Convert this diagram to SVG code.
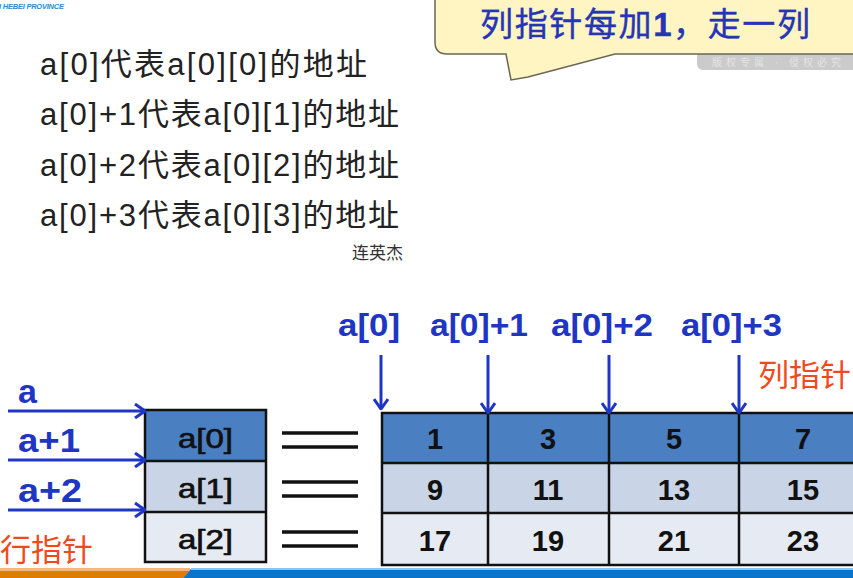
<svg xmlns="http://www.w3.org/2000/svg" width="853" height="578" viewBox="0 0 853 578">
<style>
.cn{font-family:"Liberation Sans","Noto Sans CJK SC",sans-serif}
.line{font-size:31px;fill:#222}
.blue{fill:#1f36c4;font-weight:bold;font-size:31px}
.big{font-size:34px}
.num{font-size:29px;font-weight:bold;fill:#111;text-anchor:middle}
.cell{font-size:28px;fill:#111;stroke:#111;stroke-width:0.7}
.red{fill:#f04a1c;font-size:31px}
.arr{stroke:#1f36c4;stroke-width:3;fill:none;marker-end:url(#v)}
.eq{stroke:#111;stroke-width:3.5}
.grid{stroke:#111;stroke-width:2.5;fill:none}
</style>
<defs>
<marker id="v" viewBox="0 0 12 16" refX="11" refY="8" markerWidth="12" markerHeight="16" markerUnits="userSpaceOnUse" orient="auto">
<path d="M1,1 L11,8 L1,15" stroke="#1f36c4" stroke-width="3" fill="none"/>
</marker>
</defs>
<rect width="853" height="578" fill="#fff"/>
<text x="-1" y="9" class="cn" font-size="7.5" font-style="italic" font-weight="bold" fill="#2a8ad4" textLength="65">I HEBEI PROVINCE</text>

<g id="watermark">
<rect x="697" y="50" width="170" height="20" rx="6" fill="#cbcbcb"/>
<text x="712" y="66" class="cn" font-size="10" fill="#e4e4e4" letter-spacing="4">版权专属 · 侵权必究</text>
</g>
<g id="callout">
<path d="M435,-10 L435,42 Q435,54 447,54 L506,54 L511,80 L528,77 L615,54 L870,54 L870,-10 Z" fill="#fef5c2" stroke="#6b6654" stroke-width="1.5"/>
<text x="480" y="36" class="cn" font-size="33" fill="#2535b5" stroke="#2535b5" stroke-width="0.4" textLength="330">列指针每加<tspan font-weight="bold">1</tspan>，走一列</text>
</g>

<g id="desc">
<text x="40" y="75" class="cn line" textLength="327">a[0]代表a[0][0]的地址</text>
<text x="40" y="125" class="cn line" textLength="359">a[0]+1代表a[0][1]的地址</text>
<text x="40" y="176" class="cn line" textLength="359">a[0]+2代表a[0][2]的地址</text>
<text x="40" y="226" class="cn line" textLength="359">a[0]+3代表a[0][3]的地址</text>
<text x="352" y="259" class="cn" font-size="17" fill="#333">连英杰</text>
</g>

<g id="row-pointers">
<rect x="145" y="410" width="121" height="51" fill="#4a7fc1"/>
<rect x="145" y="461" width="121" height="51" fill="#c9d4e6"/>
<rect x="145" y="512" width="121" height="50" fill="#e6eaf2"/>
<path class="grid" d="M145,410 H266 V562 H145 Z M145,461 H266 M145,512 H266"/>
<text x="178" y="448" class="cn cell" textLength="55" lengthAdjust="spacingAndGlyphs">a[0]</text>
<text x="178" y="498" class="cn cell" textLength="55" lengthAdjust="spacingAndGlyphs">a[1]</text>
<text x="178" y="549" class="cn cell" textLength="55" lengthAdjust="spacingAndGlyphs">a[2]</text>
<text x="18" y="403" class="cn blue big">a</text>
<text x="18" y="452" class="cn blue big" textLength="62" lengthAdjust="spacingAndGlyphs">a+1</text>
<text x="18" y="502" class="cn blue big" textLength="64" lengthAdjust="spacingAndGlyphs">a+2</text>
<text x="0" y="561" class="cn red">行指针</text>
</g>

<g id="equals">
<line class="eq" x1="282" y1="433" x2="358" y2="433"/>
<line class="eq" x1="282" y1="447" x2="358" y2="447"/>
<line class="eq" x1="282" y1="482" x2="358" y2="482"/>
<line class="eq" x1="282" y1="496" x2="358" y2="496"/>
<line class="eq" x1="282" y1="532" x2="358" y2="532"/>
<line class="eq" x1="282" y1="546" x2="358" y2="546"/>
</g>

<g id="matrix">
<rect x="382" y="413" width="490" height="50" fill="#4a7fc1"/>
<rect x="382" y="463" width="490" height="50" fill="#c9d4e6"/>
<rect x="382" y="513" width="490" height="52" fill="#e6eaf2"/>
<path class="grid" d="M382,413 H872 V565 H382 Z M382,463 H872 M382,513 H872 M488,413 V565 M609,413 V565 M739,413 V565"/>
<text x="435" y="449" class="cn num">1</text>
<text x="548" y="449" class="cn num">3</text>
<text x="674" y="449" class="cn num">5</text>
<text x="803" y="449" class="cn num">7</text>
<text x="435" y="500" class="cn num">9</text>
<text x="548" y="500" class="cn num">11</text>
<text x="674" y="500" class="cn num">13</text>
<text x="803" y="500" class="cn num">15</text>
<text x="435" y="551" class="cn num">17</text>
<text x="548" y="551" class="cn num">19</text>
<text x="674" y="551" class="cn num">21</text>
<text x="803" y="551" class="cn num">23</text>
</g>

<g id="col-labels">
<text x="338" y="336" class="cn blue" textLength="62" lengthAdjust="spacingAndGlyphs">a[0]</text>
<text x="430" y="336" class="cn blue" textLength="98" lengthAdjust="spacingAndGlyphs">a[0]+1</text>
<text x="551" y="336" class="cn blue" textLength="102" lengthAdjust="spacingAndGlyphs">a[0]+2</text>
<text x="681" y="336" class="cn blue" textLength="101" lengthAdjust="spacingAndGlyphs">a[0]+3</text>
<text x="758" y="386" class="cn red">列指针</text>
</g>

<g id="connectors">
<line class="arr" x1="8" y1="411" x2="145" y2="411"/>
<line class="arr" x1="8" y1="460" x2="145" y2="460"/>
<line class="arr" x1="8" y1="510" x2="145" y2="510"/>
<line class="arr" x1="381" y1="355" x2="381" y2="409"/>
<line class="arr" x1="488" y1="355" x2="488" y2="413"/>
<line class="arr" x1="609" y1="355" x2="609" y2="413"/>
<line class="arr" x1="739" y1="355" x2="739" y2="413"/>
</g>

<g id="footer">
<rect x="0" y="568" width="853" height="10" fill="#fff"/>
<path d="M0,569 H191 L183,578 H0 Z" fill="#e07b00"/>
<rect x="0" y="568" width="190" height="3" fill="#f6b870"/>
<path d="M191,569 H853 V578 H183 Z" fill="#0b74c8"/>
<rect x="191" y="568" width="662" height="2" fill="#8fc3ec"/>
</g>
</svg>
